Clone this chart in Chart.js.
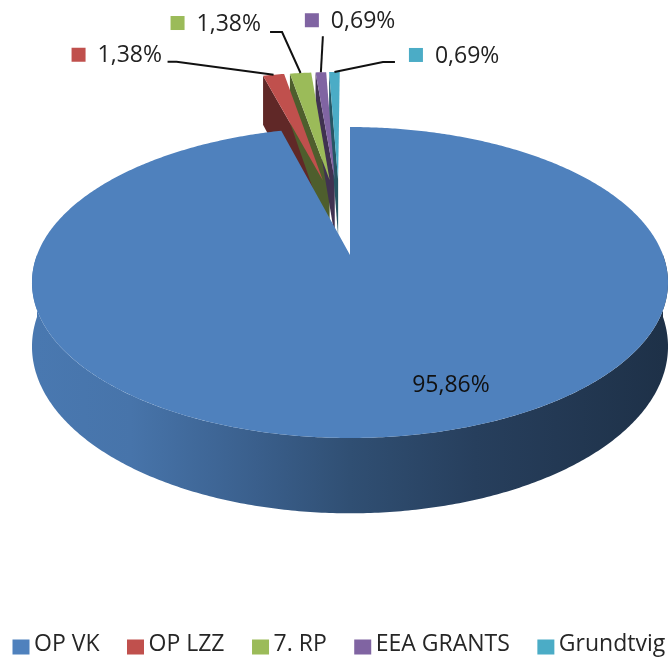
<!DOCTYPE html>
<html>
<head>
<meta charset="utf-8">
<script src="https://cdn.jsdelivr.net/npm/chart.js@4.4.1/dist/chart.umd.min.js"></script>
<style>
  html, body { margin: 0; padding: 0; background: #fff; overflow: hidden; }
  #wrap { width: 780px; height: 666px; }
</style>
</head>
<body>
<div id="wrap"><canvas id="graph"></canvas></div>
<script>
const categories = ['OP VK', 'OP LZZ', '7. RP', 'EEA GRANTS', 'Grundtvig'];
const projectCounts = [139, 2, 2, 1, 1];
const sliceColors = ['#4f81bd', '#c0504d', '#9bbb59', '#8064a2', '#4bacc6'];

// tilted disc seen in perspective: centre, radii, perspective factor, thickness
const CX = 350, CY = 255, RX = 313, RY = 150.6, PERSP = 0.1769, THICK = 62;
const LIFT = 0.55;          // how far the small slices are pulled out
const SMALL_SHARE = 0.05;   // slices under this share get pulled out

// label placement, relative to the rim point of each slice
const labelLayout = [
  {inside: 0.7, box: [68.6, 10.8]},
  {leader: [[-97, -13], [-106, -13]], box: [-202, -20]},
  {leader: [[-18.5, -41], [-30.5, -41]], box: [-130, -50]},
  {leader: [[2, -36]], box: [-16, -52]},
  {leader: [[48.5, -10], [60.5, -10]], box: [74.5, -17]}
];

const FONT = '23px "Open Sans"';

function proj(u, v) {
  const w = 1 - PERSP * v;
  return {x: CX + RX * u / w, y: CY + RY * v / w, w: w};
}
function below(p) {
  return {x: p.x, y: p.y + THICK / p.w};
}
function shade(hex, f) {
  const n = parseInt(hex.slice(1), 16);
  const r = Math.round(((n >> 16) & 255) * f), g = Math.round(((n >> 8) & 255) * f), b = Math.round((n & 255) * f);
  return 'rgb(' + r + ',' + g + ',' + b + ')';
}

function slices(chart) {
  const arcs = chart.getDatasetMeta(0).data;
  const lifted = arcs.map(a => a.circumference / (2 * Math.PI) < SMALL_SHARE);
  let gs = Infinity, ge = -Infinity;
  arcs.forEach((a, i) => {
    if (lifted[i]) { gs = Math.min(gs, a.startAngle); ge = Math.max(ge, a.endAngle); }
  });
  const groupMid = (gs + ge) / 2;
  return arcs.map((a, i) => {
    const mid = (a.startAngle + a.endAngle) / 2;
    let ox = 0, oy = 0;
    if (lifted[i]) {
      const d = (mid + groupMid) / 2;
      ox = LIFT * Math.cos(d);
      oy = LIFT * Math.sin(d);
    }
    return {arc: a, i: i, mid: mid, ox: ox, oy: oy, lifted: lifted[i]};
  });
}

function rim(s, t, r) {
  r = r === undefined ? 1 : r;
  return proj(s.ox + r * Math.cos(t), s.oy + r * Math.sin(t));
}

function drawFaces(ctx, s) {
  const a = s.arc, c = proj(s.ox, s.oy);
  const edges = [];
  if (Math.cos(a.startAngle) < -1e-6) edges.push(a.startAngle);
  if (Math.cos(a.endAngle) > 1e-6) edges.push(a.endAngle);
  edges.forEach(t => {
    const p = rim(s, t), pb = below(p), cb = below(c);
    ctx.beginPath();
    ctx.moveTo(c.x, c.y);
    ctx.lineTo(p.x, p.y);
    ctx.lineTo(pb.x, pb.y);
    ctx.lineTo(cb.x, cb.y);
    ctx.closePath();
    ctx.fillStyle = shade(sliceColors[s.i], 0.5);
    ctx.fill();
  });
}

function drawWall(ctx, s) {
  const a = s.arc;
  for (let k = -1; k <= 1; k++) {
    const lo = Math.max(a.startAngle, 2 * Math.PI * k);
    const hi = Math.min(a.endAngle, 2 * Math.PI * k + Math.PI);
    if (hi <= lo) continue;
    const n = Math.max(4, Math.ceil((hi - lo) / 0.01));
    const top = [];
    for (let j = 0; j <= n; j++) top.push(rim(s, lo + (hi - lo) * j / n));
    ctx.beginPath();
    top.forEach((p, j) => j ? ctx.lineTo(p.x, p.y) : ctx.moveTo(p.x, p.y));
    for (let j = n; j >= 0; j--) { const b = below(top[j]); ctx.lineTo(b.x, b.y); }
    ctx.closePath();
    const col = sliceColors[s.i];
    const g = ctx.createLinearGradient(CX - RX, 0, CX + RX, 0);
    g.addColorStop(0, shade(col, 0.93));
    g.addColorStop(0.15, shade(col, 0.9));
    g.addColorStop(0.35, shade(col, 0.74));
    g.addColorStop(0.5, shade(col, 0.61));
    g.addColorStop(0.7, shade(col, 0.49));
    g.addColorStop(1, shade(col, 0.38));
    ctx.fillStyle = g;
    ctx.fill();
  }
}

function drawTop(ctx, s) {
  const a = s.arc;
  const n = Math.max(4, Math.ceil(a.circumference / 0.01));
  const c = proj(s.ox, s.oy);
  ctx.beginPath();
  ctx.moveTo(c.x, c.y);
  for (let j = 0; j <= n; j++) {
    const p = rim(s, a.startAngle + a.circumference * j / n);
    ctx.lineTo(p.x, p.y);
  }
  ctx.closePath();
  ctx.fillStyle = a.options.backgroundColor;
  ctx.fill();
}

const pie3d = {
  id: 'pie3d',
  beforeDatasetsDraw(chart) {
    const ctx = chart.ctx;
    const all = slices(chart);
    ctx.save();
    [all.filter(s => s.lifted), all.filter(s => !s.lifted)].forEach(group => {
      group.forEach(s => drawFaces(ctx, s));
      group.forEach(s => drawWall(ctx, s));
      group.forEach(s => drawTop(ctx, s));
    });
    ctx.restore();
    return false;
  },
  afterDraw(chart) {
    const ctx = chart.ctx;
    const total = projectCounts.reduce((p, v) => p + v, 0);
    ctx.save();
    ctx.font = FONT;
    ctx.textBaseline = 'middle';
    slices(chart).forEach(s => {
      const lay = labelLayout[s.i];
      const txt = (projectCounts[s.i] / total * 100).toFixed(2).replace('.', ',') + '%';
      if (lay.inside) {
        const p = rim(s, s.mid, lay.inside);
        ctx.fillStyle = '#111';
        ctx.textAlign = 'center';
        ctx.fillText(txt, p.x + lay.box[0], p.y + lay.box[1]);
        return;
      }
      const p = rim(s, s.mid);
      ctx.strokeStyle = '#111';
      ctx.lineWidth = 2;
      ctx.beginPath();
      ctx.moveTo(p.x, p.y);
      lay.leader.forEach(q => ctx.lineTo(p.x + q[0], p.y + q[1]));
      ctx.stroke();
      const bx = p.x + lay.box[0], by = p.y + lay.box[1];
      ctx.fillStyle = sliceColors[s.i];
      ctx.fillRect(bx, by - 7, 14, 14);
      ctx.fillStyle = '#222';
      ctx.textAlign = 'left';
      ctx.fillText(txt, bx + 26, by + 1);
    });
    // legend markers sit closer to their text than Chart.js puts them
    (chart.legend.legendHitBoxes || []).forEach((hb, i) => {
      ctx.fillStyle = sliceColors[i];
      ctx.fillRect(hb.left + 4, hb.top + hb.height / 2 - 5, 17, 15);
    });
    ctx.restore();
  }
};

new Chart(document.getElementById('graph'), {
  type: 'pie',
  data: {
    labels: categories,
    datasets: [{
      data: projectCounts,
      backgroundColor: sliceColors,
      borderWidth: 0
    }]
  },
  options: {
    responsive: true,
    maintainAspectRatio: false,
    animation: false,
    events: [],
    layout: {padding: {left: -15, right: 0, top: 0, bottom: 0}},
    plugins: {
      tooltip: {enabled: false},
      legend: {
        position: 'bottom',
        align: 'start',
        labels: {
          font: {family: 'Open Sans', size: 23},
          color: '#262626',
          boxWidth: 14,
          boxHeight: 14,
          padding: 23.5,
          generateLabels(chart) {
            return Chart.overrides.pie.plugins.legend.labels.generateLabels(chart)
              .map(l => Object.assign(l, {fillStyle: 'rgba(0,0,0,0)', strokeStyle: 'rgba(0,0,0,0)', lineWidth: 0}));
          }
        }
      }
    }
  },
  plugins: [pie3d]
});
</script>
</body>
</html>
